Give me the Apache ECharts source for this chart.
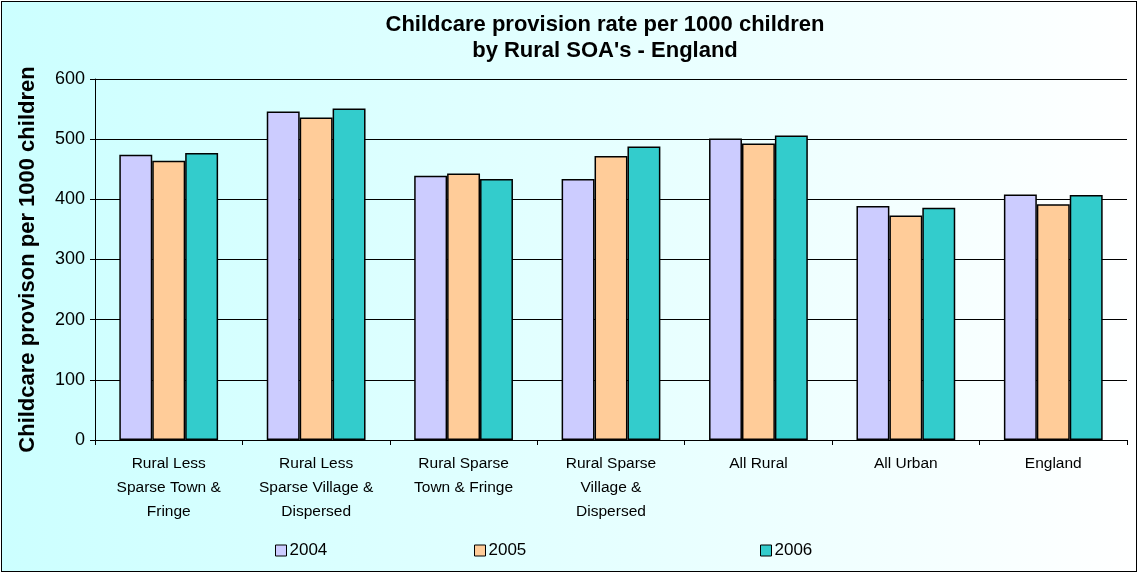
<!DOCTYPE html>
<html>
<head>
<meta charset="utf-8">
<script src="https://cdn.jsdelivr.net/npm/echarts@6/dist/echarts.min.js"></script>
<style>
  html, body { margin: 0; padding: 0; background: #ffffff; }
  #frame {
    position: absolute; left: 1px; top: 1px; width: 1134px; height: 569px;
    border: 1px solid #000;
    background: linear-gradient(to right, #ccffff 0%, #e6ffff 55%, #ffffff 100%);
  }
  #chart { width: 1134px; height: 569px; }
</style>
</head>
<body>
<div id="frame"><div id="chart"></div></div>
<script>
// Childcare provision rate per 1000 children, by rural area type
const categories = [
  'Rural Less\nSparse Town &\nFringe',
  'Rural Less\nSparse Village &\nDispersed',
  'Rural Sparse\nTown & Fringe',
  'Rural Sparse\nVillage &\nDispersed',
  'All Rural',
  'All Urban',
  'England'
];
const years = ['2004', '2005', '2006'];
const rate2004 = [474, 546, 439, 434, 501, 389, 408];
const rate2005 = [464, 536, 443, 472, 493, 373, 392];
const rate2006 = [477, 551, 434, 488, 506, 386, 407];
const yTicks = { min: 0, max: 600, interval: 100 };

const colors = ['#ccccff', '#ffcc99', '#33cccc'];
const values = [rate2004, rate2005, rate2006];

const chart = echarts.init(document.getElementById('chart'), null, { renderer: 'canvas' });

const font = 'Arial, "Liberation Sans", sans-serif';

function legendFor(i, left) {
  return {
    data: [years[i]],
    left: left, top: 535,
    itemWidth: 11, itemHeight: 11,
    icon: 'rect',
    itemStyle: { borderColor: '#000', borderWidth: 1 },
    textStyle: { fontFamily: font, fontSize: 17, color: '#000', padding: [0, 0, 0, -2] }
  };
}

chart.setOption({
  backgroundColor: 'transparent',
  animation: false,
  title: {
    text: 'Childcare provision rate per 1000 children\nby Rural SOA\'s - England',
    left: 598, top: 5, textAlign: 'center',
    textStyle: { fontFamily: font, fontWeight: 'bold', fontSize: 22, lineHeight: 26, color: '#000' }
  },
  legend: [legendFor(0, 268), legendFor(1, 467), legendFor(2, 753)],
  grid: { left: 93, right: 9, top: 77, bottom: 131, containLabel: false },
  xAxis: {
    type: 'category',
    data: categories,
    axisLine: { lineStyle: { color: '#000', width: 1 } },
    axisTick: { show: true, length: 5, lineStyle: { color: '#000' } },
    axisLabel: {
      interval: 0, margin: 12,
      fontFamily: font, fontSize: 15.5, lineHeight: 24, color: '#000'
    }
  },
  yAxis: {
    type: 'value',
    min: yTicks.min, max: yTicks.max, interval: yTicks.interval,
    name: 'Childcare provison per 1000 children',
    nameLocation: 'middle', nameGap: 56,
    nameTextStyle: { fontFamily: font, fontWeight: 'bold', fontSize: 22, color: '#000' },
    axisLine: { show: true, lineStyle: { color: '#000', width: 1 } },
    axisTick: { show: true, length: 5, lineStyle: { color: '#000' } },
    axisLabel: { fontFamily: font, fontSize: 18, color: '#000', margin: 10 },
    splitLine: { show: true, lineStyle: { color: '#000', width: 1 } }
  },
  series: years.map((y, i) => ({
    name: y,
    type: 'bar',
    data: values[i],
    barGap: '0%',
    barCategoryGap: '33%',
    itemStyle: { color: colors[i], borderColor: '#000', borderWidth: 1.5 }
  }))
});
</script>
</body>
</html>
